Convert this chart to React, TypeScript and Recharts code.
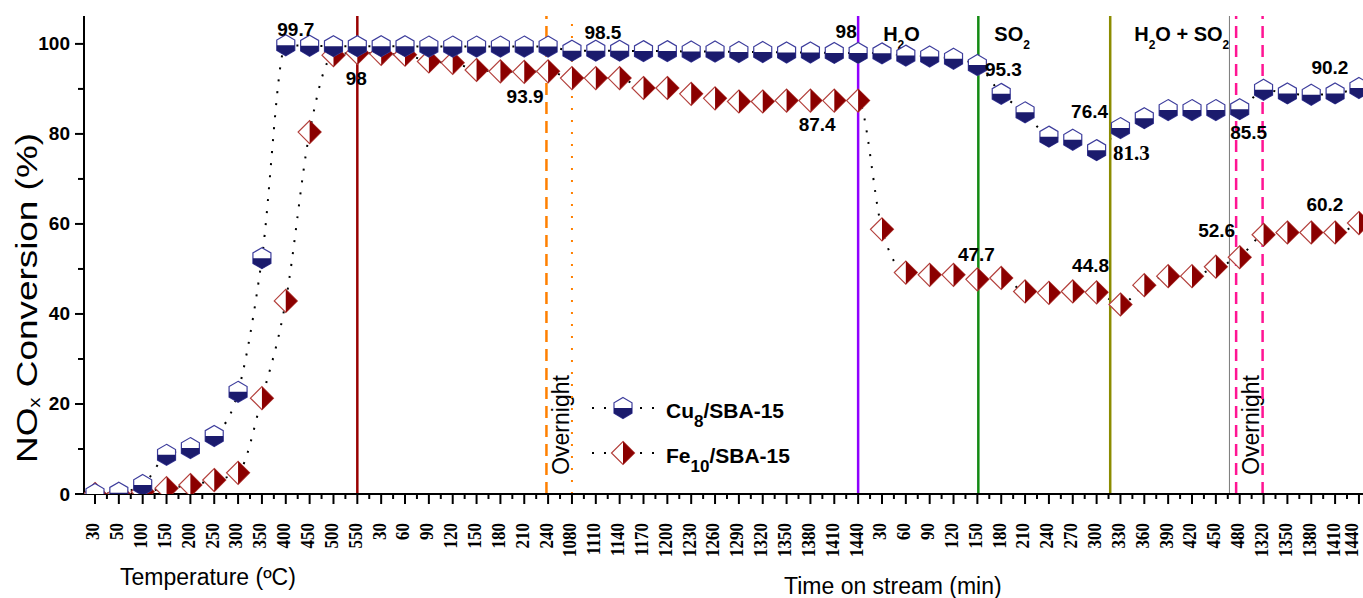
import React from 'react';
import { LineChart, Line, XAxis, YAxis, ReferenceLine, LabelList } from 'recharts';

// Light-off temperatures (ºC) followed by the time-on-stream blocks (min)
const categories = [
  '30', '50', '100', '150', '200', '250', '300', '350', '400', '450', '500', '550',
  '30', '60', '90', '120', '150', '180', '210', '240',
  '1080', '1110', '1140', '1170', '1200', '1230', '1260', '1290', '1320', '1350', '1380', '1410', '1440',
  '30', '60', '90', '120', '150',
  '180', '210', '240', '270', '300',
  '330', '360', '390', '420', '450', '480',
  '1320', '1350', '1380', '1410', '1440',
];

const cuConversion = [
  0, 0.3, 2, 8.7, 10.2, 12.9, 22.7, 52.4, 99.7, 99.6, 99.5, 99.5,
  99.5, 99.5, 99.4, 99.4, 99.4, 99.4, 99.4, 99.4,
  98.5, 98.5, 98.5, 98.4, 98.4, 98.3, 98.3, 98.2, 98.2, 98.1, 98.1, 98.0, 98,
  97.9, 97.4, 97.2, 96.7, 95.3,
  88.9, 84.8, 79.4, 78.7, 76.4,
  81.3, 83.5, 85.3, 85.3, 85.3, 85.5,
  89.8, 89.0, 88.7, 89.0, 90.2,
];

const feConversion = [
  0, 0, 0.5, 1.3, 2, 3.1, 4.7, 21.3, 42.9, 80.4, 97.5, 98,
  97.8, 97.6, 96.1, 95.8, 94.2, 93.9, 93.8, 93.9,
  92.4, 92.4, 92.4, 90.2, 90.2, 88.9, 87.9, 87.2, 87.2, 87.4, 87.4, 87.4, 87.4,
  58.8, 49.2, 48.7, 48.7, 47.7,
  48, 45, 44.7, 45, 44.8,
  42.1, 46.4, 48.4, 48.4, 50.5, 52.6,
  57.6, 58.1, 58.1, 58.1, 60.2,
];

const seriesNames = ['Cu', 'Fe'];
const seriesSubs = ['8', '10'];

const yTicks = [0, 10, 20, 30, 40, 50, 60, 70, 80, 90, 100];

// indexes of the points whose value is written next to them
const cuNoted = [8, 20, 32, 37, 42, 43, 48, 53];
const feNoted = [11, 19, 32, 37, 42, 48, 53];

// event lines, in category-index units
const stageEnd = [11];
const overnightA = [18.93, 20];
const h2oAt = 32;
const so2At = 37.04;
const mixAt = 42.57;
const mixEdge = 47.57;
const overnightB = [47.85, 48.96];

const rows = categories.map((label, i) => ({ i, label, cu: cuConversion[i], fe: feConversion[i] }));
const xTicks = Array.from({ length: categories.length * 2 - 1 }, (_, k) => k / 2);

const SANS = "'Liberation Sans', Arial, sans-serif";
const SERIF = "'Liberation Serif', 'Times New Roman', serif";
const NAVY = '#1b1b6d';
const MAROON = '#8b0000';
const WIDTH = 1363;

const CuMarker = ({ cx, cy }: { cx: number; cy: number }) => {
  const w = 9;
  const h = 10.5;
  const outline = `${cx},${cy - h} ${cx + w},${cy - h / 2} ${cx + w},${cy + h / 2} ${cx},${cy + h} ${cx - w},${cy + h / 2} ${cx - w},${cy - h / 2}`;
  const lower = `${cx - w},${cy} ${cx + w},${cy} ${cx + w},${cy + h / 2} ${cx},${cy + h} ${cx - w},${cy + h / 2}`;
  return (
    <g>
      <polygon points={outline} fill="#fff" stroke="#3d3d9c" strokeWidth={1.2} />
      <polygon points={lower} fill={NAVY} />
    </g>
  );
};

const FeMarker = ({ cx, cy }: { cx: number; cy: number }) => {
  const r = 11.5;
  return (
    <g>
      <polygon
        points={`${cx},${cy - r} ${cx + r},${cy} ${cx},${cy + r} ${cx - r},${cy}`}
        fill="#fff"
        stroke="#b3403c"
        strokeWidth={1.2}
      />
      <polygon points={`${cx},${cy - r} ${cx + r},${cy} ${cx},${cy + r}`} fill={MAROON} />
    </g>
  );
};

const renderXTick = (props: any) => {
  const { x, y, payload } = props;
  const v = payload.value as number;
  const major = Number.isInteger(v);
  // keep the last rotated label inside the drawing
  const tx = Math.min(x - 2, WIDTH - 11);
  const ty = y + 29;
  return (
    <g key={`xt-${v}`}>
      <line x1={x} x2={x} y1={y} y2={y + (major ? 10 : 5)} stroke="#000" strokeWidth={2} />
      {major && (
        <text
          transform={`translate(${tx} ${ty}) rotate(-90) scale(1 1.15)`}
          textAnchor="end"
          dominantBaseline="central"
          fontFamily={SERIF}
          fontWeight="bold"
          fontSize={17}
          fill="#000"
        >
          {categories[v]}
        </text>
      )}
    </g>
  );
};

const renderYTick = (props: any) => {
  const { x, y, payload } = props;
  const v = payload.value as number;
  const major = v % 20 === 0;
  return (
    <g key={`yt-${v}`}>
      <line x1={x} x2={x - (major ? 9 : 6)} y1={y} y2={y} stroke="#000" strokeWidth={2} />
      {major && (
        <text x={x - 14} y={y} textAnchor="end" dominantBaseline="central" fontFamily={SANS} fontWeight="bold" fontSize={19} fill="#000">
          {v}
        </text>
      )}
    </g>
  );
};

// label offsets from the point, in px
const cuNoteOffset: Record<number, [number, number]> = {
  8: [10, -16], 20: [31, -18], 32: [-12, -21], 37: [26, 4],
  42: [-7, -39], 43: [11, 25], 48: [9, 23], 53: [-29, -21],
};
const feNoteOffset: Record<number, [number, number]> = {
  11: [-1, 26], 19: [-23, 25], 32: [-41, 24], 37: [-1, -25],
  42: [-6, -27], 48: [-23, -27], 53: [-34, -19],
};

const noteRenderer = (noted: number[], offsets: Record<number, [number, number]>, serifAt: number[] = []) => (props: any) => {
  const { x, y, value, index } = props;
  if (!noted.includes(index)) return null;
  const [dx, dy] = offsets[index];
  return (
    <text
      key={`n-${index}`}
      x={x + dx}
      y={y + dy}
      textAnchor="middle"
      dominantBaseline="central"
      fontFamily={serifAt.includes(index) ? SERIF : SANS}
      fontWeight="bold"
      fontSize={serifAt.includes(index) ? 21 : 19}
      fill="#000"
    >
      {String(value)}
    </text>
  );
};

const chemTitle = (dx: number, kind: 'h2o' | 'so2' | 'mix') => (props: any) => {
  const { x, y } = props.viewBox;
  const common = { x: x + dx, y: y + 25, fontFamily: SANS, fontWeight: 'bold', fontSize: 20, fill: '#000' } as const;
  if (kind === 'h2o')
    return (
      <text {...common}>
        H<tspan dy={8} fontSize={12}>2</tspan><tspan dy={-8}>O</tspan>
      </text>
    );
  if (kind === 'so2')
    return (
      <text {...common}>
        SO<tspan dy={8} fontSize={12}>2</tspan>
      </text>
    );
  return (
    <text {...common}>
      H<tspan dy={8} fontSize={12}>2</tspan><tspan dy={-8}>O + SO</tspan><tspan dy={8} fontSize={12}>2</tspan>
    </text>
  );
};

const overnightTitle = (dx: number) => (props: any) => {
  const { x } = props.viewBox;
  const cx = x + dx;
  const cy = 425;
  return (
    <text x={cx} y={cy} transform={`rotate(-90 ${cx} ${cy})`} textAnchor="middle" dominantBaseline="central" fontFamily={SANS} fontSize={23} fill="#000">
      Overnight
    </text>
  );
};

const dotted = { stroke: '#000', strokeWidth: 2, strokeDasharray: '2 10' };

export default function App() {
  return (
    <div style={{ position: 'absolute', left: 0, top: 0, width: WIDTH, height: 598, background: '#fff', overflow: 'hidden' }}>
      <LineChart width={WIDTH} height={598} data={rows} margin={{ top: 16, right: 0, bottom: 0, left: 0 }}>
        <XAxis
          dataKey="i"
          type="number"
          domain={[-0.461, 53.17]}
          ticks={xTicks}
          interval={0}
          tickSize={0}
          tickMargin={0}
          tickLine={false}
          tick={renderXTick}
          axisLine={{ stroke: '#000', strokeWidth: 2 }}
          height={104}
          allowDataOverflow
        />
        <XAxis
          xAxisId="top"
          orientation="top"
          dataKey="i"
          type="number"
          domain={[-0.461, 53.17]}
          tick={false}
          tickLine={false}
          axisLine={{ stroke: '#000', strokeWidth: 2 }}
          height={0}
          allowDataOverflow
        />
        <YAxis
          type="number"
          domain={[0, 106.2]}
          ticks={yTicks}
          interval={0}
          tickSize={0}
          tickMargin={0}
          tickLine={false}
          tick={renderYTick}
          axisLine={{ stroke: '#000', strokeWidth: 2 }}
          width={84}
          allowDataOverflow
        />

        <Line
          dataKey="fe"
          type="monotone"
          {...dotted}
          dot={(p: any) => <FeMarker key={`fe-${p.index}`} cx={p.cx} cy={p.cy} />}
          activeDot={false}
          isAnimationActive={false}
        >
          <LabelList dataKey="fe" content={noteRenderer(feNoted, feNoteOffset)} />
        </Line>
        <Line
          dataKey="cu"
          type="monotone"
          {...dotted}
          dot={(p: any) => <CuMarker key={`cu-${p.index}`} cx={p.cx} cy={p.cy} />}
          activeDot={false}
          isAnimationActive={false}
        >
          <LabelList dataKey="cu" content={noteRenderer(cuNoted, cuNoteOffset, [43])} />
        </Line>

        <ReferenceLine x={stageEnd[0]} stroke="#990000" strokeWidth={2.5} />
        <ReferenceLine x={overnightA[0]} stroke="#ff8000" strokeWidth={2.5} strokeDasharray="12 7" label={overnightTitle(14.5)} />
        <ReferenceLine x={overnightA[1]} stroke="#ff8000" strokeWidth={2} strokeDasharray="2 10" />
        <ReferenceLine x={h2oAt} stroke="#8f00ff" strokeWidth={2.5} label={chemTitle(25, 'h2o')} />
        <ReferenceLine x={so2At} stroke="#138a13" strokeWidth={2.5} label={chemTitle(16, 'so2')} />
        <ReferenceLine x={mixAt} stroke="#8c8c00" strokeWidth={2.5} label={chemTitle(24, 'mix')} />
        <ReferenceLine x={mixEdge} stroke="#7a7a7a" strokeWidth={1} />
        <ReferenceLine x={overnightB[0]} stroke="#ff1493" strokeWidth={2.5} strokeDasharray="12 7" label={overnightTitle(14.5)} />
        <ReferenceLine x={overnightB[1]} stroke="#ff1493" strokeWidth={2.5} strokeDasharray="12 7" />
      </LineChart>

      <svg width={WIDTH} height={598} style={{ position: 'absolute', left: 0, top: 0, pointerEvents: 'none' }}>
        <text
          x={27}
          y={298}
          transform="rotate(-90 27 298)"
          textAnchor="middle"
          dominantBaseline="central"
          fontFamily={SANS}
          fontSize={29}
          textLength={330}
          lengthAdjust="spacingAndGlyphs"
          fill="#000"
        >
          NO<tspan dy={7} fontSize={16}>x</tspan>
          <tspan dy={-7}> Conversion (%)</tspan>
        </text>
        <text x={120} y={585} fontFamily={SANS} fontSize={23} fill="#000">
          Temperature (ºC)
        </text>
        <text x={784} y={594} fontFamily={SANS} fontSize={23} fill="#000">
          Time on stream (min)
        </text>

        {seriesNames.map((name, k) => {
          const cy = 408 + k * 45;
          return (
            <g key={name}>
              <line x1={592} x2={656} y1={cy} y2={cy} {...dotted} />
              {k === 0 ? <CuMarker cx={623} cy={cy} /> : <FeMarker cx={623} cy={cy} />}
              <text x={666} y={cy + 10} fontFamily={SANS} fontWeight="bold" fontSize={21} fill="#000">
                {name}
                <tspan dy={9} fontSize={17}>{seriesSubs[k]}</tspan>
                <tspan dy={-9}>/SBA-15</tspan>
              </text>
            </g>
          );
        })}
      </svg>
    </div>
  );
}
